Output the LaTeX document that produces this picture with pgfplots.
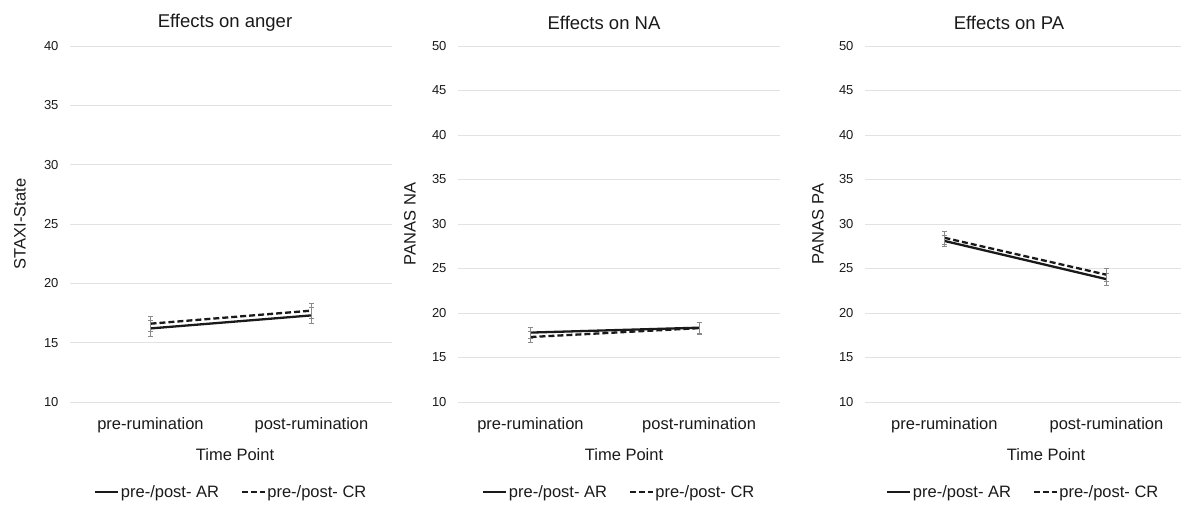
\documentclass[border=0pt]{standalone}
\usepackage{pgfplots}
\pgfplotsset{compat=1.18}
\usepackage{fontspec}
\setmainfont{Liberation Sans}
\definecolor{ink}{HTML}{1A1A1A}
\definecolor{gridGrey}{HTML}{E2E2E2}
\definecolor{barGrey}{HTML}{8A8A8A}

\pgfplotsset{
  panel/.style={
    scale only axis, width=322pt, height=356pt,
    xtick={0,1}, xticklabels={pre-rumination,post-rumination},
    ytick distance=5, ymin=10,
    axis line style={draw=none}, major tick length=0pt,
    ymajorgrids, grid style={gridGrey, line width=1pt},
    /pgf/number format/assume math mode=true,
    yticklabel style={font=\fontsize{13}{15}\selectfont, text=ink, xshift=-8pt},
    xticklabel style={font=\fontsize{16.5}{19}\selectfont, text=ink, anchor=center, yshift=-23pt},
    label style={font=\fontsize{16.5}{19}\selectfont, text=ink},
    title style={font=\fontsize{18.5}{21}\selectfont, text=ink, anchor=center, at={(axis description cs:0.5,1)}, yshift=17pt},
    ylabel style={at={(axis description cs:0,0.5)}, anchor=center},
    xlabel style={at={(axis description cs:0.5,0)}, anchor=center, yshift=-53pt},
    legend style={draw=none, fill=none, at={(0.5,0)}, anchor=center, yshift=-90pt,
      font=\fontsize{16.5}{19}\selectfont, text=ink, legend columns=2,
      nodes={inner sep=1.5pt},
      /tikz/every even column/.append style={column sep=20pt}},
    legend cell align=left,
    legend image code/.code={\draw[#1] (0pt,0pt) -- (23pt,0pt);},
    error bars/error bar style={solid, barGrey, line width=0.6pt},
    error bars/error mark options={rotate=90, mark size=2.5pt, barGrey, solid, line width=0.6pt},
  },
  ar/.style={ink, line width=2.3pt, solid, mark=none,
    error bars/.cd, y dir=both, y explicit},
  cr/.style={ink, line width=2.3pt, dash pattern=on 6pt off 3pt, mark=none,
    error bars/.cd, y dir=both, y explicit},
}

\begin{document}
\begin{tikzpicture}
\path[use as bounding box] (0pt,0pt) rectangle (1181pt,-506pt);

% anger
\begin{axis}[panel, at={(70pt,-402pt)}, anchor=south west,
  xmin=-0.5, xmax=1.5, ymax=40,
  title={Effects on anger}, title style={xshift=-6pt},
  ylabel={STAXI-State}, ylabel style={yshift=50pt},
  xlabel={Time Point}, xlabel style={xshift=4pt}]
\addplot[ar] coordinates {(0,16.2) +- (0,0.65) (1,17.3) +- (0,0.65)};
\addplot[cr] coordinates {(0,16.6) +- (0,0.6) (1,17.7) +- (0,0.65)};
\legend{pre-/post- AR, pre-/post- CR}
\end{axis}

% NA
\begin{axis}[panel, at={(458pt,-402pt)}, anchor=south west,
  xmin=-0.43, xmax=1.48, ymax=50,
  title={Effects on NA}, title style={xshift=-15pt},
  ylabel={PANAS NA}, ylabel style={yshift=48pt},
  xlabel={Time Point}, xlabel style={xshift=5pt}]
\addplot[ar] coordinates {(0,17.8) +- (0,0.6) (1,18.35) +- (0,0.65)};
\addplot[cr] coordinates {(0,17.3) +- (0,0.6) (1,18.3) +- (0,0.65)};
\legend{pre-/post- AR, pre-/post- CR}
\end{axis}

% PA
\begin{axis}[panel, at={(865pt,-402pt)}, width=316pt, anchor=south west,
  xmin=-0.49, xmax=1.46, ymax=50,
  title={Effects on PA}, title style={xshift=-14pt},
  ylabel={PANAS PA}, ylabel style={yshift=47pt},
  xlabel={Time Point}, xlabel style={xshift=23pt}]
\addplot[ar] coordinates {(0,28.1) +- (0,0.6) (1,23.8) +- (0,0.7)};
\addplot[cr] coordinates {(0,28.45) +- (0,0.7) (1,24.3) +- (0,0.7)};
\legend{pre-/post- AR, pre-/post- CR}
\end{axis}
\end{tikzpicture}
\end{document}
